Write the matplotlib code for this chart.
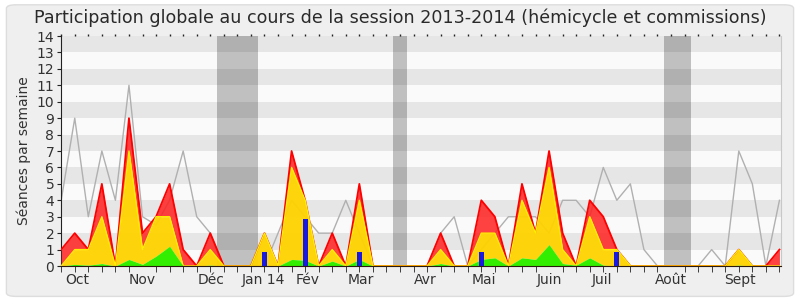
import matplotlib
matplotlib.use("Agg")
import matplotlib.pyplot as plt
from matplotlib.patches import FancyBboxPatch
import numpy as np

plt.rcParams['font.family'] = ['DejaVu Sans']

# Weekly data (54 weeks, session 2013-2014)
presence_total = [1, 2, 1, 5, 0, 9, 2, 3, 5, 1, 0, 2, 0, 0, 0, 2, 0, 7, 4, 0,
                  2, 0, 5, 0, 0, 0, 0, 0, 2, 0, 0, 4, 3, 0, 5, 2, 7, 2, 0, 4,
                  3, 1, 0, 0, 0, 0, 0, 0, 0, 0, 1, 0, 0, 1]
presence_comm = [0, 1, 1, 3, 0, 7, 1, 3, 3, 0, 0, 1, 0, 0, 0, 2, 0, 6, 4, 0,
                 1, 0, 4, 0, 0, 0, 0, 0, 1, 0, 0, 2, 2, 0, 4, 2, 6, 1, 0, 3,
                 1, 1, 0, 0, 0, 0, 0, 0, 0, 0, 1, 0, 0, 0]
participation = [0, 0.1, 0.05, 0.15, 0, 0.4, 0.1, 0.6, 1.2, 0, 0, 0.05, 0, 0, 0, 0.05,
                 0, 0.4, 0.35, 0, 0.3, 0, 0.4, 0, 0, 0, 0, 0, 0.15, 0, 0, 0.4,
                 0.5, 0, 0.5, 0.4, 1.3, 0.15, 0.05, 0.5, 0.05, 0, 0, 0, 0, 0, 0, 0,
                 0, 0, 0.05, 0, 0, 0]
mediane = [4, 9, 3, 7, 4, 11, 3, 2.5, 4, 7, 3, 2, 0, 0, 0, 0, 2, 4, 3, 2,
           2, 4, 2, 0, 0, 0, 0, 0, 2, 3, 0, 1, 2, 3, 3, 3, 2, 4, 4, 3,
           6, 4, 5, 1, 0, 0, 0, 0, 1, 0, 7, 5, 0, 4]
questions_weeks = [15, 18, 22, 31, 41]
questions_values = [0.87, 2.87, 0.87, 0.87, 0.87]
vacances = [(11.5, 14.5), (24.5, 25.5), (44.5, 46.5)]
month_labels = ["Oct", "Nov", "Déc", "Jan 14", "Fév", "Mar", "Avr", "Mai",
                "Juin", "Juil", "Août", "Sept"]
month_positions = [1.15, 6.0, 11.05, 14.9, 18.2, 22.1, 26.9, 31.2, 36.0, 39.9, 45.0, 50.1]

weeks = np.arange(len(presence_total))
tot = np.array(presence_total, float)
com = np.array(presence_comm, float)
par = np.array(participation, float)

fig = plt.figure(figsize=(8, 3), dpi=100, facecolor='white')
fig.patches.append(FancyBboxPatch((0.008, 0.012), 0.984, 0.972,
                                  boxstyle="round,pad=0,rounding_size=0.012",
                                  transform=fig.transFigure, facecolor='#efefef',
                                  edgecolor='#dddddd', linewidth=1, zorder=-10))
ax = fig.add_axes([0.0765, 0.1133, 0.8995, 0.7667])
ax.set_zorder(5)
ax.set_facecolor('#fafafa')
ax.set_xlim(0, 53.1)
ax.set_ylim(0, 14)

# stripes
for k in range(1, 14, 2):
    ax.axhspan(k, k + 1, color='#e6e6e6', lw=0, zorder=0)
for a, b in vacances:
    ax.axvspan(a, b, color='black', alpha=0.23, lw=0, zorder=1)

ax.plot(weeks, mediane, color='#b0b0b0', lw=1.0, zorder=2)
ax.fill_between(weeks, com, tot, color='#ff2020', alpha=0.85, lw=0, zorder=3)
ax.plot(weeks, tot, color='#ff0000', lw=1.3, zorder=4)
ax.fill_between(weeks, par, com, color='#ffd200', alpha=0.95, lw=0, zorder=5)
ax.plot(weeks, com, color='#ffee00', lw=1.0, zorder=6)
ax.fill_between(weeks, 0, par, color='#33ee00', lw=0, zorder=7)
ax.bar(questions_weeks, questions_values, width=0.35, color='#1a1adf', zorder=8)

# axes styling
ax.spines['top'].set_visible(False)
ax.spines['right'].set_color('#c8c8c8')
ax.spines['left'].set_color('#222222')
ax.spines['bottom'].set_color('#2a1a10')
ax.spines['bottom'].set_zorder(10)

ax.set_yticks(range(0, 15))
ax.tick_params(axis='y', length=3, labelsize=10, labelcolor='#333333', pad=2, color='#222222')
ax.set_xticks(weeks, minor=True)
ax.set_xticks(month_positions)
ax.set_xticklabels(month_labels)
ax.tick_params(axis='x', which='major', length=0, labelsize=10, labelcolor='#333333', pad=5)
ax.tick_params(axis='x', which='minor', length=4, color='#222222', top=False, direction='out')
# tiny dotted ticks along the top edge
sec = ax.secondary_xaxis('top')
sec.set_xticks(weeks)
sec.set_xticklabels([])
sec.tick_params(length=1.5, color='#222222', width=1)
sec.spines['top'].set_visible(False)
ax.set_ylabel("Séances par semaine", fontsize=10, color='#333333', labelpad=4)

fig.text(0.5, 0.94, "Participation globale au cours de la session 2013-2014 (hémicycle et commissions)",
         ha='center', va='center', fontsize=12.6, color='#2a2a2a')

fig.savefig("out.png", dpi=100, facecolor=fig.get_facecolor())
